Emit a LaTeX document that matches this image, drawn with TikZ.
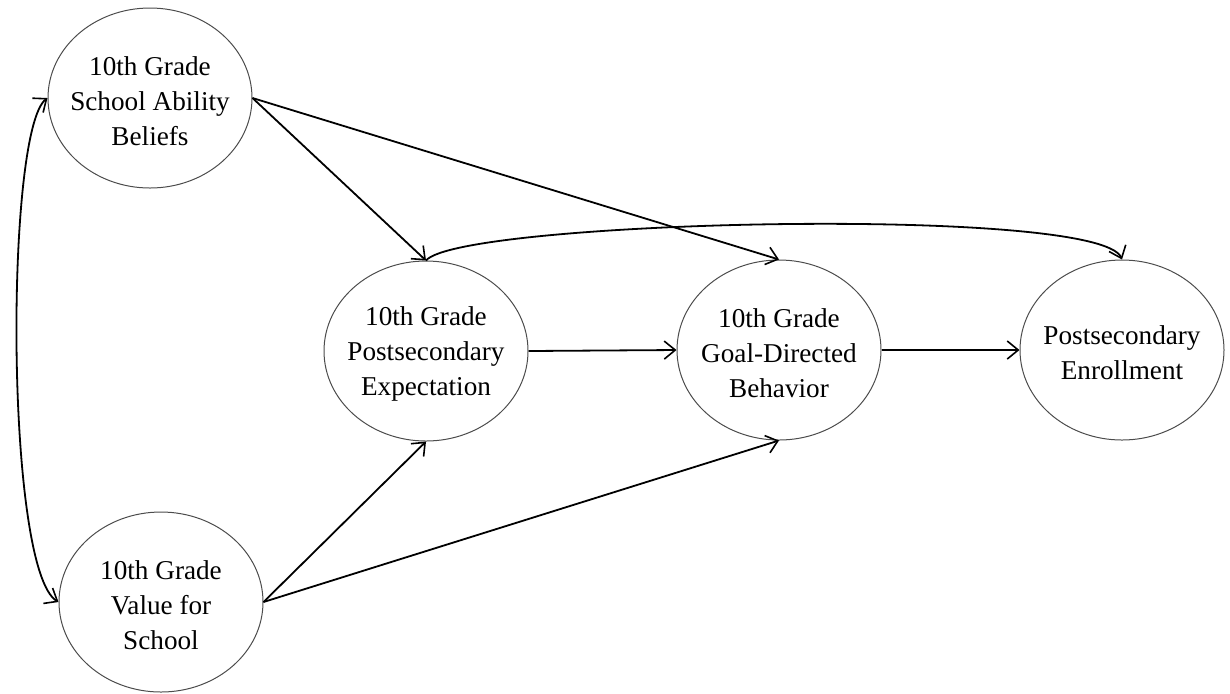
\documentclass[tikz,border=0pt]{standalone}
\usepackage{fontspec}
\setmainfont{Liberation Serif}
\usetikzlibrary{shapes.geometric,arrows.meta}
\begin{document}
\begin{tikzpicture}[x=0.5pt,y=-0.5pt,
  construct/.style={ellipse, draw=black!70, line width=0.5pt, inner sep=0pt,
    minimum width=102pt, minimum height=90pt,
    label={[cname]center:#1}},
  cname/.style={align=center, inner sep=0pt, yshift=-1.5pt,
    font=\fontsize{13.6}{17.4}\selectfont},
  path/.style={draw, line width=0.9pt, -{Straight Barb[length=5.5pt,width=9pt,line width=0.8pt]}},
  bipath/.style={draw, line width=0.9pt, {Straight Barb[length=5.5pt,width=9pt,line width=0.8pt]}-{Straight Barb[length=5.5pt,width=9pt,line width=0.8pt]}}]
\useasboundingbox (0,0) rectangle (1230,693);

% latent constructs
\node[construct={10th Grade\\School Ability\\Beliefs}] (abil) at (150,98) {};
\node[construct={10th Grade\\Value for\\School}] (val) at (161,602) {};
\node[construct={10th Grade\\Postsecondary\\Expectation}] (expc) at (426,351) {};
\node[construct={10th Grade\\Goal-Directed\\Behavior}] (goal) at (779,350) {};
\node[construct={Postsecondary\\Enrollment}] (enrl) at (1122,350) {};

% correlation between the two predictors
\draw[bipath] (abil.west) .. controls (5,130) and (5,570) .. (val.west);

% structural paths
\draw[path] (abil.east) -- (expc.north);
\draw[path] (abil.east) -- (goal.north);
\draw[path] (val.east) -- (expc.south);
\draw[path] (val.east) -- (goal.south);
\draw[path] (expc.east) -- (goal.west);
\draw[path] (goal.east) -- (enrl.west);
\draw[path] (expc.north) .. controls (460,220) and (1100,205) .. (enrl.north);
\end{tikzpicture}
\end{document}
